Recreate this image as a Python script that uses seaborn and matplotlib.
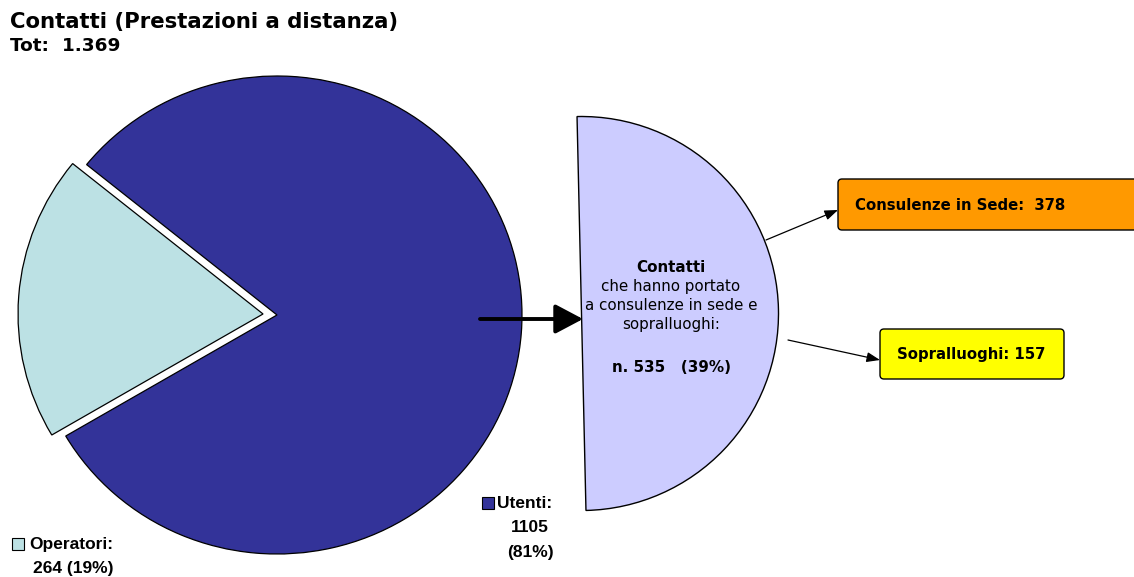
import matplotlib
matplotlib.use("Agg")
import matplotlib.pyplot as plt
from matplotlib.patches import Wedge, FancyBboxPatch, Rectangle
from matplotlib.transforms import Affine2D
import seaborn as sns

# Data
categories = ["Operatori", "Utenti"]
counts = [264, 1105]
shares = [19, 81]
total_label = "1.369"
follow_up_total = 535
follow_up_share = 39
follow_up_labels = ["Consulenze in Sede", "Sopralluoghi"]
follow_up_counts = [378, 157]

colors = ["#BCE1E4", "#333399"]
lavender = "#CCCCFF"
box_colors = ["#FF9900", "#FFFF00"]

sns.set_style("white")
plt.rcParams["font.family"] = ["DejaVu Sans"]
plt.rcParams["text.color"] = "black"

W, H = 1134, 577
fig = plt.figure(figsize=(W / 100, H / 100), dpi=100)
ax = fig.add_axes([0, 0, 1, 1])


def Y(y):
    # convert a top-down pixel offset to the axes' bottom-up coordinates
    return H - y


# Main pie (explode offset is in data units, i.e. pixels here)
pcx, pcy = 277, Y(315)
wedges, _ = ax.pie(
    counts,
    colors=colors,
    startangle=141,
    counterclock=True,
    explode=[14, 0],
    center=(pcx, pcy),
    radius=245,
    wedgeprops=dict(linewidth=0.9, edgecolor="black"),
    frame=True,
)
# slightly flattened pie
squash = Affine2D().translate(-pcx, -pcy).scale(1, 0.9755).translate(pcx, pcy)
for w in wedges:
    w.set_transform(squash + ax.transData)
ax.set_xlim(0, W)
ax.set_ylim(0, H)
ax.set_aspect("equal")
ax.axis("off")

# Half disk for contacts that led to follow-ups
half = Wedge((581.5, Y(313.5)), 197, -88.7, 91.3, facecolor=lavender,
             edgecolor="black", linewidth=1.0)
ax.add_patch(half)

# Arrow from pie to half disk
ax.annotate("", xy=(583, Y(319)), xytext=(480, Y(319)),
            arrowprops=dict(arrowstyle="-|>,head_length=1.7,head_width=0.9",
                            color="black", lw=2.8, shrinkA=0, shrinkB=0))

# Text inside the half disk
cx = 671
fs_in = 10.9
ax.text(cx, Y(268), "Contatti", ha="center", va="center", fontsize=fs_in,
        fontweight="bold")
for yy, line in zip([287, 305, 324], ["che hanno portato", "a consulenze in sede e",
                                       "sopralluoghi:"]):
    ax.text(cx, Y(yy), line, ha="center", va="center", fontsize=fs_in)
ax.text(cx, Y(367), f"n. {follow_up_total}   ({follow_up_share}%)", ha="center",
        va="center", fontsize=fs_in, fontweight="bold")

# Follow-up boxes
boxes = [(838, 179, 320, 51), (880, 329, 184, 50)]
arrows = [((766, 240), (838, 210)), ((788, 340), (880, 360))]
text_pos = [(855, 205, "left"), (971, 354, "center")]
texts = [f"{follow_up_labels[0]}:  {follow_up_counts[0]}",
         f"{follow_up_labels[1]}: {follow_up_counts[1]}"]
for (bx, by, bw, bh), col, ((x0, y0), (x1, y1)), (tx, ty, ha), t in zip(
        boxes, box_colors, arrows, text_pos, texts):
    ax.add_patch(FancyBboxPatch((bx + 4, Y(by + bh) + 4), bw - 8, bh - 8,
                                boxstyle="round,pad=4", facecolor=col,
                                edgecolor="black", linewidth=1.0))
    ax.annotate("", xy=(x1, Y(y1)), xytext=(x0, Y(y0)),
                arrowprops=dict(arrowstyle="-|>,head_length=0.8,head_width=0.3",
                                color="black", lw=0.9, shrinkA=0, shrinkB=0))
    ax.text(tx, Y(ty), t, ha=ha, va="center", fontsize=10.7, fontweight="bold")

# Legend-style labels
lab_font = dict(family=["Liberation Sans", "DejaVu Sans"], fontweight="bold",
                fontsize=12.5)
ax.add_patch(Rectangle((12, Y(550)), 12, 12, facecolor=colors[0],
                       edgecolor="black", linewidth=0.8))
ax.text(29, Y(545), f"{categories[0]}:", ha="left", va="center", **lab_font)
ax.text(33, Y(569), f"{counts[0]} ({shares[0]}%)", ha="left", va="center",
        **lab_font)
ax.add_patch(Rectangle((482, Y(509)), 12, 12, facecolor=colors[1],
                       edgecolor="black", linewidth=0.8))
ax.text(497, Y(503), f"{categories[1]}:", ha="left", va="center", **lab_font)
ax.text(530, Y(528), f"{counts[1]}", ha="center", va="center", **lab_font)
ax.text(530, Y(553), f"({shares[1]}%)", ha="center", va="center", **lab_font)

# Titles
ax.text(10, Y(22), "Contatti (Prestazioni a distanza)", ha="left", va="center",
        fontsize=15.3, fontweight="bold")
ax.text(10, Y(46), f"Tot:  {total_label}", ha="left", va="center",
        fontsize=13.3, fontweight="bold")

fig.savefig("out.png", dpi=100)
